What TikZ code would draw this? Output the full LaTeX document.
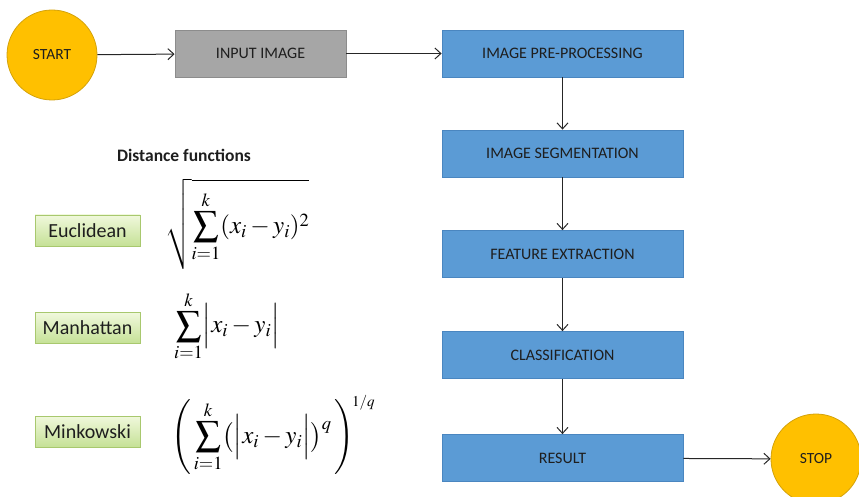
\documentclass[tikz,border=0pt]{standalone}
\usepackage{mathptmx}
\usepackage[no-math]{fontspec}
\setmainfont{Carlito}
\usetikzlibrary{arrows.meta,shapes.geometric}
\definecolor{gold}{HTML}{FFC000}
\definecolor{goldline}{HTML}{D4A20A}
\definecolor{bluefill}{HTML}{5B9BD5}
\definecolor{blueline}{HTML}{4A86C0}
\definecolor{grayfill}{HTML}{A6A6A6}
\definecolor{grayline}{HTML}{8C8C8C}
\definecolor{greentop}{HTML}{F0F8DC}
\definecolor{greenbot}{HTML}{C5E196}
\definecolor{greenline}{HTML}{A8C86E}
\definecolor{txt}{HTML}{1E1E1E}
\tikzset{
  term/.style={circle,draw=goldline,fill=gold,line width=0.8pt,minimum size=90pt,inner sep=0pt,font=\fontsize{15.5}{18}\selectfont,text=txt},
  graybox/.style={rectangle,draw=grayline,fill=grayfill,line width=0.8pt,minimum width=171pt,minimum height=47pt,inner sep=0pt,font=\fontsize{16}{18}\selectfont,text=txt},
  bluebox/.style={rectangle,draw=blueline,fill=bluefill,line width=0.8pt,minimum width=241pt,minimum height=47pt,inner sep=0pt,font=\fontsize{16}{18}\selectfont,text=txt},
  greenbox/.style={rectangle,draw=greenline,top color=greentop,bottom color=greenbot,line width=0.8pt,minimum width=105pt,minimum height=31pt,inner sep=0pt,font=\fontsize{20}{24}\selectfont,text=txt},
  formula/.style={anchor=west,inner sep=0pt,font=\fontsize{25}{30}\selectfont},
  arr/.style={-{Straight Barb[length=6pt,width=11pt]},line width=1pt,black!85},
}
\begin{document}
\begin{tikzpicture}[x=1pt,y=-1pt]
\useasboundingbox (0,0) rectangle (859,497);
\node[term] (start) at (52,55) {START};
\node[graybox] (input) at (260.5,53.5) {INPUT IMAGE};
\node[bluebox] (pre) at (562.5,53.5) {IMAGE PRE-PROCESSING};
\node[bluebox] (seg) at (562.5,153.5) {IMAGE SEGMENTATION};
\node[bluebox] (feat) at (562.5,254) {FEATURE EXTRACTION};
\node[bluebox] (cls) at (562.5,355) {CLASSIFICATION};
\node[bluebox] (res) at (562.5,458) {RESULT};
\node[term] (stop) at (816,459) {STOP};
\draw[arr] (start) -- (input);
\draw[arr] (input) -- (pre);
\draw[arr] (pre) -- (seg);
\draw[arr] (seg) -- (feat);
\draw[arr] (feat) -- (cls);
\draw[arr] (cls) -- (res);
\draw[arr] (res) -- (stop);
\node[font=\bfseries\fontsize{17.5}{20}\selectfont,text=txt] (title) at (184,155) {Distance functions};
\node[greenbox] (euc) at (87.5,230.5) {Euclidean};
\node[greenbox] (man) at (87.5,328) {Manhattan};
\node[greenbox] (min) at (87.5,431.5) {Minkowski};
\node[formula] (feuc) at (165,224) {$\displaystyle\sqrt{\sum_{i=1}^{k}(x_i-y_i)^2}$};
\node[formula] (fman) at (174,326) {$\displaystyle\sum_{i=1}^{k}\Bigl|x_i-y_i\Bigr|$};
\node[formula] (fmin) at (171,435) {$\displaystyle\left(\,\sum_{i=1}^{k}\bigl(\Bigl|x_i-y_i\Bigr|\bigr)^{q}\,\right)^{\!\scriptscriptstyle 1/q}$};
\end{tikzpicture}
\end{document}
